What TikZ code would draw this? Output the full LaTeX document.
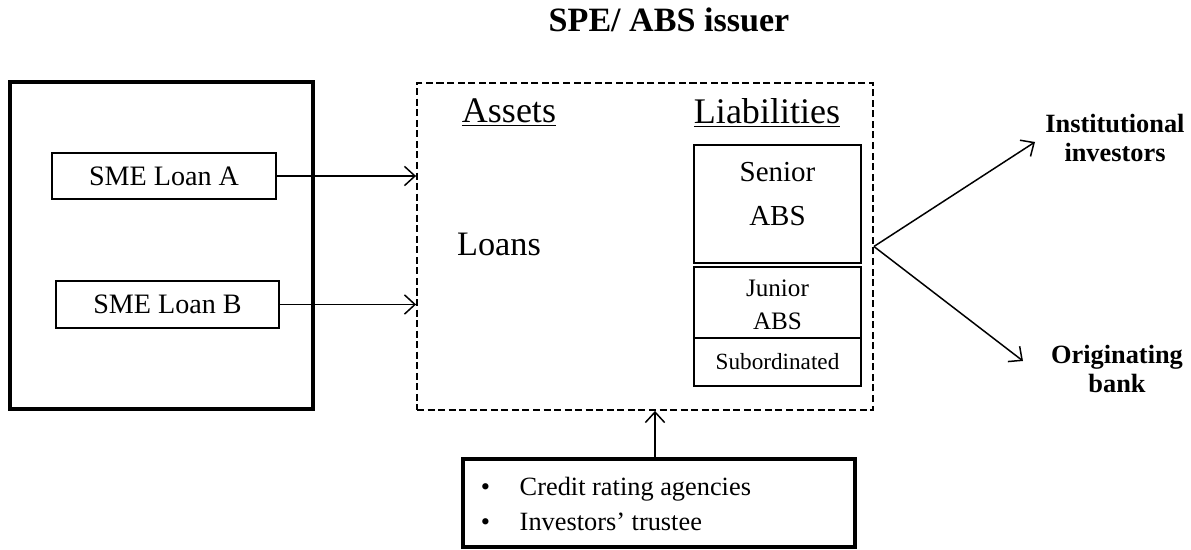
\documentclass[tikz,border=0pt]{standalone}
\usepackage{fontspec}
\setmainfont{Liberation Serif}
\usetikzlibrary{positioning, arrows.meta}

\begin{document}
\begin{tikzpicture}[x=0.02cm, y=-0.02cm, >={Straight Barb[length=6pt,width=11pt]},
					line width=0.85pt, box/.style={draw, rectangle, inner sep=0pt, line width=1.1pt},
					thickbox/.style={box, line width=2.3pt}, tier/.style={box, minimum width=3.34cm} ]
					\useasboundingbox (0,0) rectangle (1191,550);
					
					\node[anchor=base, font=\fontsize{19.4}{23}\selectfont\bfseries] (title) at (669,32) {SPE/ ABS issuer};
					
					%Originating pool:
					\node[thickbox, minimum width=6.06cm, minimum height=6.54cm] (pool) at (161.5,245.5) {};
					\node[box, minimum width=4.48cm, minimum height=0.92cm, font=\fontsize{16}{19}\selectfont] (loanA) at (164,176) {SME Loan A};
					\node[box, minimum width=4.46cm, minimum height=0.94cm, font=\fontsize{16}{19}\selectfont] (loanB) at (167.5,304.5) {SME Loan B};
					
					%SPE balance sheet:
					\node[box, dash pattern=on 4pt off 2pt, minimum width=9.12cm, minimum height=6.54cm] (spe) at (645,246.5) {};
					\node[font=\fontsize{20.5}{24}\selectfont] (assets) at (509,113) {\underline{Assets}};
					\node[font=\fontsize{20.5}{24}\selectfont] (liab) at (767,113) {\underline{Liabilities}};
					\node[font=\fontsize{19.5}{23}\selectfont] (loans) at (499,244) {Loans};
					
					\node[tier, minimum height=2.36cm] (senior) at (777.5,204) {};
					\node[font=\fontsize{16.5}{25}\selectfont, align=center] (seniorT) at (777.5,194) {Senior\\ABS};
					\node[tier, minimum height=1.42cm] (junior) at (777.5,302.5) {};
					\node[font=\fontsize{14.3}{19}\selectfont, align=center] (juniorT) at (777.5,305) {Junior\\ABS};
					\node[tier, minimum height=0.96cm, font=\fontsize{13.2}{16}\selectfont] (sub) at (777.5,362) {Subordinated};
					
					%Buyers:
					\node[font=\fontsize{15}{17}\selectfont\bfseries, align=center] (inst) at (1115,138) {Institutional\\investors};
					\node[font=\fontsize{15}{17}\selectfont\bfseries, align=center] (orig) at (1117,369) {Originating\\bank};
					\coordinate (instEnd) at (1035,142);
					\coordinate (origEnd) at (1023,361);
					
					%Third parties:
					\node[thickbox, minimum width=7.84cm, minimum height=1.76cm] (agents) at (659,503) {};
					\node[anchor=north west, inner sep=0pt, font=\fontsize{15}{20}\selectfont] (agentsT) at (480,470)
						{\begin{tabular}{@{}p{0.78cm}@{}l@{}} \textbullet & Credit rating agencies\\ \textbullet & Investors’ trustee \end{tabular}};
					\coordinate (agentsTop) at (655,459);
					
					\draw[->] (loanA) -- (loanA -| spe.west);
					\draw[->] (loanB) -- (loanB -| spe.west);
					\draw[->] (spe.east) -- (instEnd);
					\draw[->] (spe.east) -- (origEnd);
					\draw[->] (agentsTop) -- (agentsTop |- spe.south);
				\end{tikzpicture}
\end{document}
